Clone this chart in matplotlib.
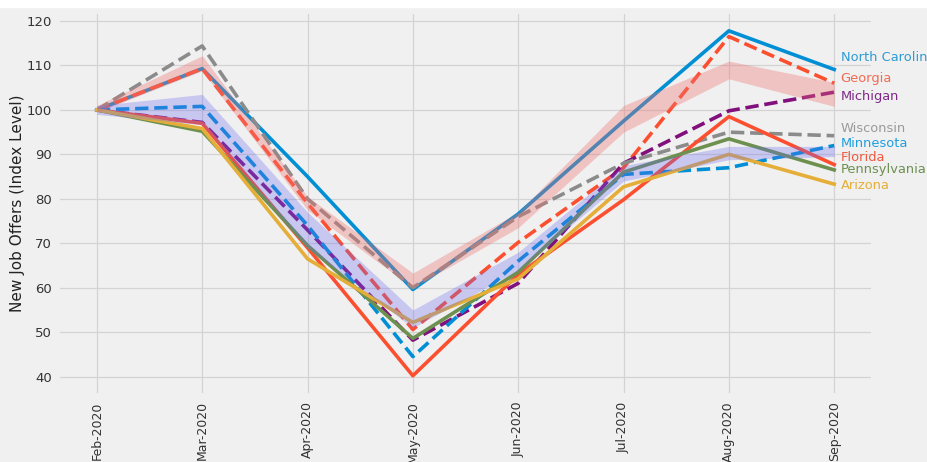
import matplotlib
matplotlib.use("Agg")
import matplotlib.pyplot as plt
from matplotlib.patches import Rectangle

# months on the x axis
MONTHS = ["Feb-2020", "Mar-2020", "Apr-2020", "May-2020",
          "Jun-2020", "Jul-2020", "Aug-2020", "Sep-2020"]

# index level per state
NORTH_CAROLINA = [100, 109.3, 85.0, 59.6, 76.6, 97.5, 117.8, 109.1]
GEORGIA        = [100, 109.3, 79.0, 50.6, 70.2, 87.0, 116.5, 106.0]
MICHIGAN       = [100, 97.2, 73.0, 48.2, 61.0, 88.0, 99.8, 104.0]
WISCONSIN      = [100, 114.4, 80.0, 60.0, 76.0, 88.0, 95.0, 94.2]
MINNESOTA      = [100, 100.8, 74.0, 44.5, 66.0, 85.5, 87.0, 92.0]
FLORIDA        = [100, 97.0, 69.0, 40.2, 63.0, 79.8, 98.5, 87.7]
PENNSYLVANIA   = [100, 95.2, 69.5, 48.6, 63.5, 86.0, 93.5, 86.5]
ARIZONA        = [100, 95.8, 66.5, 52.2, 62.0, 82.7, 90.0, 83.3]

# shaded bands (lower / upper)
PINK_LOW  = [99.5, 108.8, 77.5, 60.0, 73.5, 95.0, 107.0, 100.8]
PINK_HIGH = [101.0, 112.2, 80.5, 63.3, 77.0, 101.0, 111.0, 106.2]
BLUE_LOW  = [99.0, 96.7, 69.0, 51.0, 64.0, 84.0, 88.8, 89.5]
BLUE_HIGH = [101.0, 103.5, 77.0, 55.0, 68.0, 87.5, 91.8, 91.8]

# where each end label sits (data units); the reference clips "North Carolina"
LABEL_Y = {
    "North Carolin": 111.9, "Georgia": 107.1, "Michigan": 103.0,
    "Wisconsin": 95.8, "Minnesota": 92.4, "Florida": 89.3,
    "Pennsylvania": 86.5, "Arizona": 82.9,
}

BLUE, RED, YELLOW = "#008fd5", "#fc4f30", "#e5ae38"
GREEN, GRAY, PURPLE = "#6d904f", "#8b8b8b", "#810f7c"

series = [
    ("North Carolin", NORTH_CAROLINA, BLUE, "-", "#2f9bd3"),
    ("Georgia", GEORGIA, RED, "--", "#f36a52"),
    ("Michigan", MICHIGAN, PURPLE, "--", "#7d2a86"),
    ("Wisconsin", WISCONSIN, GRAY, "--", "#9a9a9a"),
    ("Minnesota", MINNESOTA, BLUE, "--", "#1e9fe0"),
    ("Florida", FLORIDA, RED, "-", "#f25a3e"),
    ("Pennsylvania", PENNSYLVANIA, GREEN, "-", "#6d904f"),
    ("Arizona", ARIZONA, YELLOW, "-", "#e5ae38"),
]

bg = "#f0f0f0"
fig = plt.figure(figsize=(9.27, 4.62), dpi=100, facecolor=bg)
ax = fig.add_axes([0.0647, 0.1494, 0.875, 0.8212])
ax.set_facecolor(bg)

x = list(range(len(MONTHS)))
for name, vals, color, ls, _ in series:
    ax.plot(x, vals, color=color, linestyle=ls, linewidth=2.6, zorder=3)

ax.fill_between(x, PINK_LOW, PINK_HIGH, color="#f07070", alpha=0.35,
                linewidth=0, zorder=4)
ax.fill_between(x, BLUE_LOW, BLUE_HIGH, color="#6a6af0", alpha=0.3,
                linewidth=0, zorder=4)

for name, vals, color, ls, tcolor in series:
    ax.text(x[-1] + 0.06, LABEL_Y[name], name, color=tcolor, fontsize=9.4,
            va="center", ha="left", clip_on=False, zorder=5)

ax.set_xticks(x)
ax.set_xticklabels(MONTHS, rotation=90, fontsize=9, color="#333333")
ax.set_yticks(range(40, 121, 10))
ax.tick_params(axis="y", labelsize=9.5, labelcolor="#333333")
ax.tick_params(length=0, pad=6)
ax.set_ylabel("New Job Offers (Index Level)", fontsize=11, color="#222222")
ax.yaxis.set_label_coords(-0.043, 0.5)
ax.grid(True, color="#d3d3d3", linewidth=0.9)
ax.set_axisbelow(True)
for s in ax.spines.values():
    s.set_visible(False)

# white strip at the very top of the screenshot
fig.patches.append(Rectangle((0, 1 - 7 / 462), 1, 7 / 462,
                             transform=fig.transFigure, color="white",
                             zorder=10))

fig.savefig("out.png", dpi=100, facecolor=bg)
